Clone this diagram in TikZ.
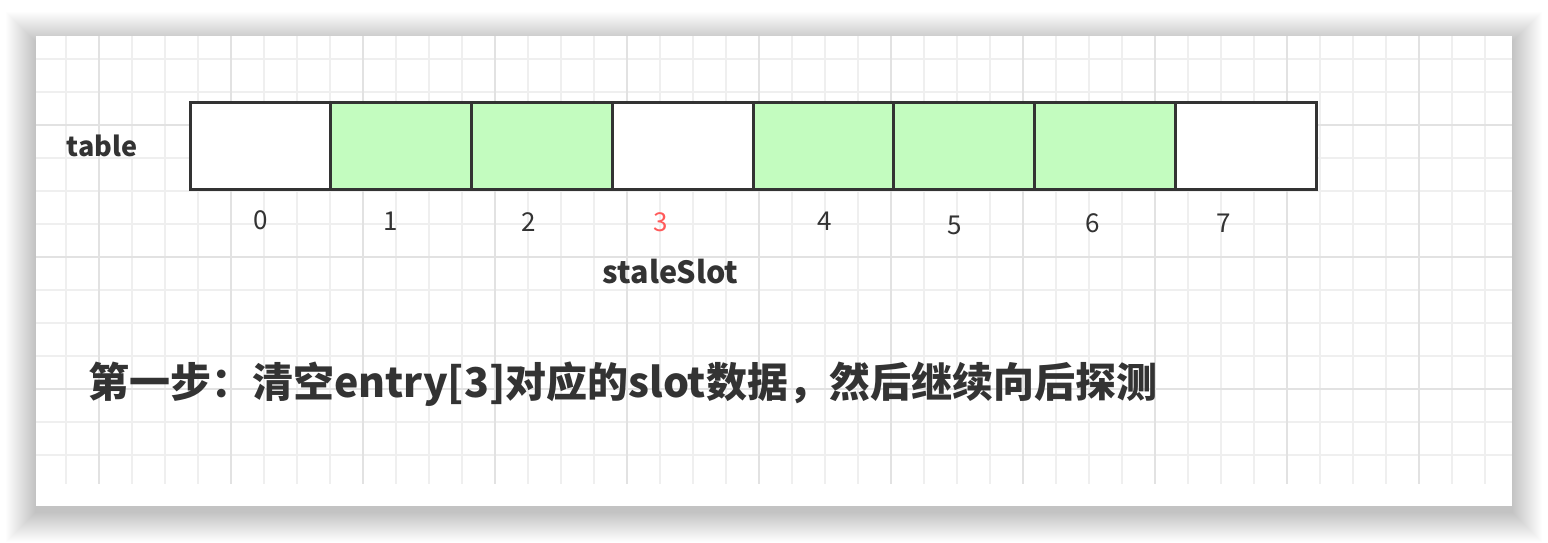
\documentclass[tikz,border=0pt]{standalone}
\usepackage{fontspec}
\newfontfamily\cjk{Noto Sans CJK SC}
\usepackage{tikz}
\usetikzlibrary{positioning}

\definecolor{slotgreen}{RGB}{195,252,191}
\definecolor{inkgray}{RGB}{51,51,51}
\definecolor{stalered}{RGB}{255,90,90}
\definecolor{gridminor}{RGB}{239,239,239}
\definecolor{gridmajor}{RGB}{226,226,226}

\begin{document}
\begin{tikzpicture}[
			x=1pt, y=-1pt,
			font=\cjk,
			slot/.style={
				draw=inkgray,
				line width=3pt,
				minimum width=140.75pt,
				minimum height=87pt,
				inner sep=0pt,
				outer sep=0pt
			},
			freeslot/.style={slot, fill=white},
			fullslot/.style={slot, fill=slotgreen},
			idx/.style={text=inkgray, inner sep=0pt, font=\cjk\fontsize{26}{30}\selectfont},
			tag/.style={text=inkgray, inner sep=0pt, font=\cjk\bfseries\fontsize{27}{32}\selectfont},
			node distance=0pt
			]
			\useasboundingbox (0,0) rectangle (1548,542);
			
			% panel shadow and grid
			\foreach \k in {1,...,30}
				\fill[black, opacity=0.006] (36-\k,42-\k) rectangle (1512+\k,512+\k);
			\fill[white] (36,36) rectangle (1512,506);
			\foreach \k in {0,...,43}
				\draw[gridminor, line width=2pt] ({66.3+33*\k},36) -- ++(0,448);
			\foreach \k in {0,...,12}
				\draw[gridminor, line width=2pt] (36,{59.3+33*\k}) -- ++(1476,0);
			\foreach \k in {0,...,10}
				\draw[gridmajor, line width=2pt] ({99.3+132*\k},36) -- ++(0,448);
			\foreach \k in {0,...,2}
				\draw[gridmajor, line width=2pt] (36,{125.3+132*\k}) -- ++(1476,0);
			
			\node[tag] (table) at (102,146) {table};
			
			\node[freeslot, anchor=north west] (s0) at (190,102) {};
			\node[fullslot, right=of s0] (s1) {};
			\node[fullslot, right=of s1] (s2) {};
			\node[freeslot, right=of s2] (s3) {};
			\node[fullslot, right=of s3] (s4) {};
			\node[fullslot, right=of s4] (s5) {};
			\node[fullslot, right=of s5] (s6) {};
			\node[freeslot, right=of s6] (s7) {};
			
			\node[idx] (i0) at (261,220) {0};
			\node[idx] (i1) at (391,221.5) {1};
			\node[idx] (i2) at (529,222) {2};
			\node[idx, text=stalered] (i3) at (660.5,222) {3};
			\node[idx] (i4) at (825,221.5) {4};
			\node[idx] (i5) at (955,225) {5};
			\node[idx] (i6) at (1092.5,223.5) {6};
			\node[idx] (i7) at (1224,223.5) {7};
			
			\node[tag, font=\cjk\bfseries\fontsize{30.5}{36}\selectfont] (stale) at (670.5,272) {staleSlot};
			
			\node[text=inkgray, inner sep=0pt, anchor=base west, font=\cjk\bfseries\fontsize{41}{48}\selectfont] (step) at (88,397)
				{第一步：清空entry[3]对应的slot数据，然后继续向后探测};
			
		\end{tikzpicture}
\end{document}
